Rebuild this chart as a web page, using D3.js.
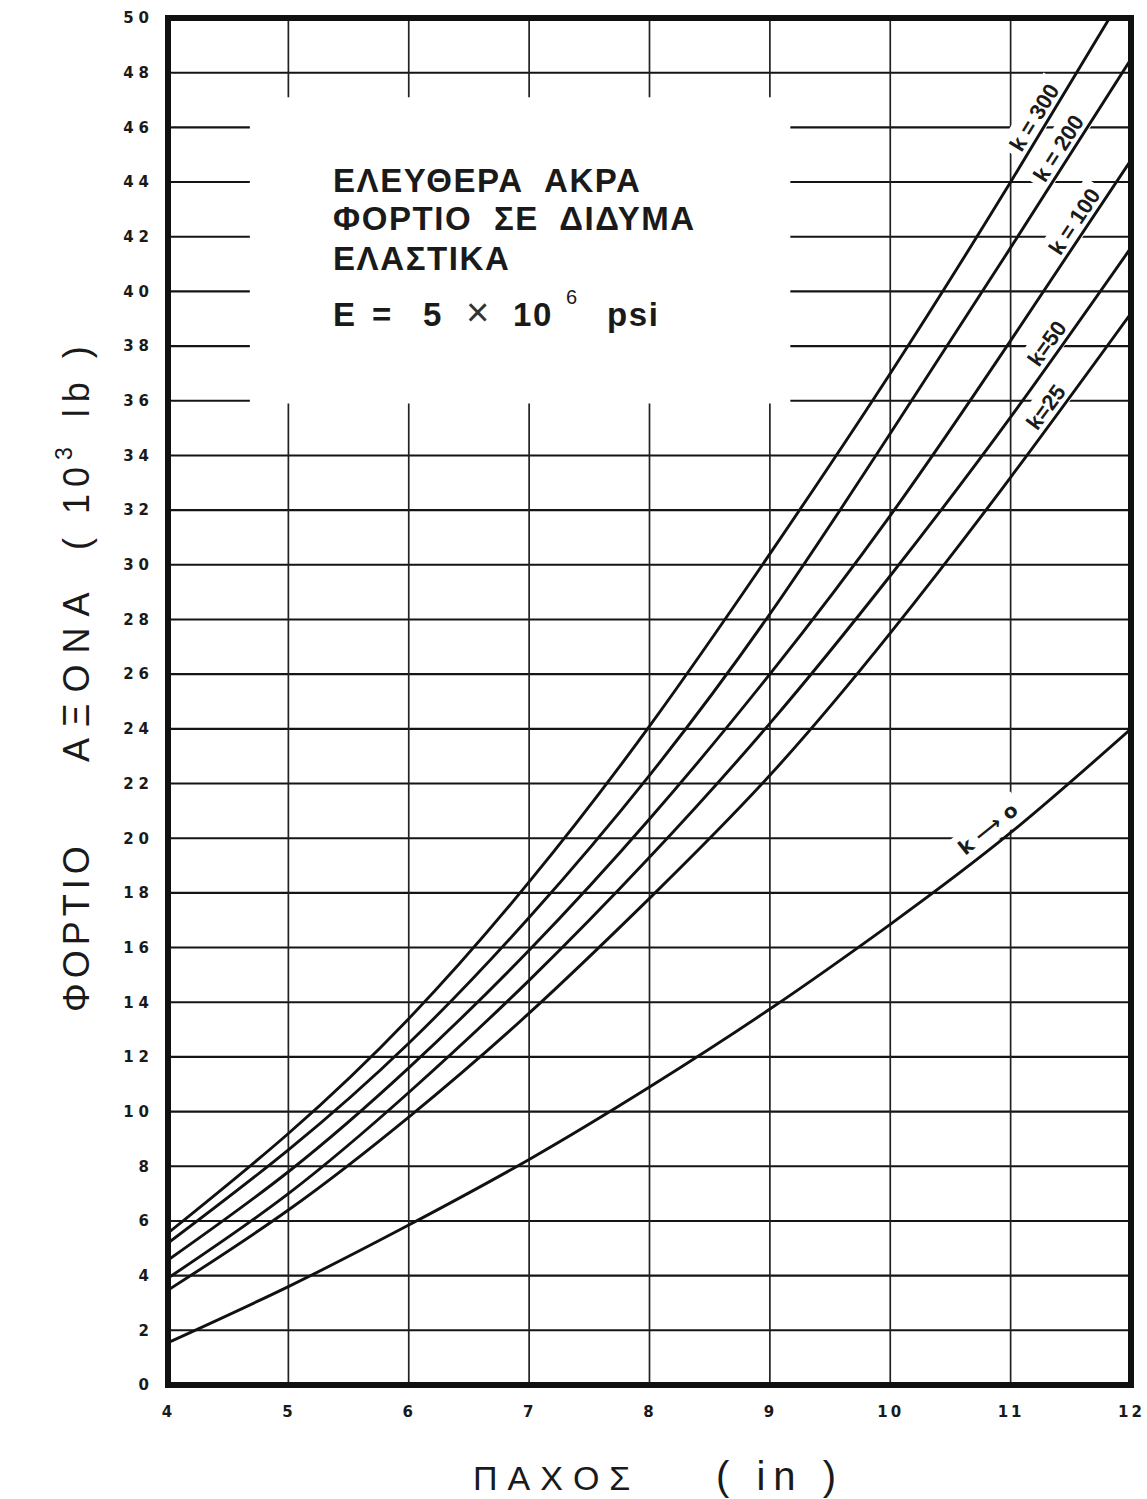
<!DOCTYPE html>
<html>
<head>
<meta charset="utf-8">
<script src="https://cdn.jsdelivr.net/npm/d3@7"></script>
<style>
  body { margin: 0; background: #fff; }
  svg { display: block; }
</style>
</head>
<body>
<svg id="chart" width="1147" height="1499"></svg>
<script>
// Slab thickness (in) and the axle load (10^3 lb) for each subgrade modulus k
const thickness = [4, 5, 6, 7, 8, 9, 10, 11, 12];
const loadK300 = [5.56, 9.2, 13.4, 18.4, 24.1, 30.4, 37.0, 44.0, 51.3];
const loadK200 = [5.19, 8.6, 12.5, 17.1, 22.3, 28.2, 34.8, 41.6, 48.5];
const loadK100 = [4.57, 7.8, 11.6, 15.9, 20.7, 26.0, 31.8, 38.2, 44.8];
const loadK50  = [3.91, 7.0, 10.7, 14.8, 19.3, 24.2, 29.6, 35.4, 41.6];
const loadK25  = [3.47, 6.4, 9.8, 13.6, 17.8, 22.3, 27.5, 33.2, 39.2];
const loadK0   = [1.55, 3.6, 5.85, 8.25, 10.9, 13.75, 16.85, 20.2, 24.0];

const curveNames = ["k = 300", "k = 200", "k = 100", "k=50", "k=25", "k \u27f6 o"];
// thickness at which each label sits beside its curve, and its offset (px) to the upper left
const labelThickness = [11.29, 11.49, 11.62, 11.39, 11.38, 10.90];
const labelOffset = [13, 13, 13, 13, 13, 17];

const xTicks = [4, 5, 6, 7, 8, 9, 10, 11, 12];
const yTicks = d3.range(0, 51, 2);

// region of the note panel (data units) kept free of grid lines
const noteThickness = [4.68, 9.17];
const noteLoad = [35.9, 47.1];

const series = [loadK300, loadK200, loadK100, loadK50, loadK25, loadK0];

const svg = d3.select("#chart");
const x = d3.scaleLinear().domain([4, 12]).range([168, 1131]);
const y = d3.scaleLinear().domain([0, 50]).range([1385, 18]);

svg.append("defs").append("clipPath").attr("id", "plotClip")
  .append("rect")
  .attr("x", x(4)).attr("y", y(50))
  .attr("width", x(12) - x(4)).attr("height", y(0) - y(50));

// grid
const grid = svg.append("g");
grid.selectAll("line.h").data(yTicks.filter(v => v > 0 && v < 50)).join("line")
  .attr("class", "h")
  .attr("x1", x(4)).attr("x2", x(12))
  .attr("y1", d => y(d)).attr("y2", d => y(d))
  .attr("stroke", "#151515").attr("stroke-width", 2.1);
grid.selectAll("line.v").data(xTicks.filter(v => v > 4 && v < 12)).join("line")
  .attr("class", "v")
  .attr("x1", d => x(d)).attr("x2", d => x(d))
  .attr("y1", y(0)).attr("y2", y(50))
  .attr("stroke", "#222").attr("stroke-width", 1.7);

// blank panel behind the note
svg.append("rect")
  .attr("x", x(noteThickness[0])).attr("y", y(noteLoad[1]))
  .attr("width", x(noteThickness[1]) - x(noteThickness[0]))
  .attr("height", y(noteLoad[0]) - y(noteLoad[1]))
  .attr("fill", "#fff");

// note text
const noteFont = "'Liberation Sans', Arial, sans-serif";
const note = svg.append("g").attr("font-family", noteFont).attr("font-weight", "bold")
  .attr("font-size", 33).attr("letter-spacing", 1.6).attr("fill", "#1a1a1a");
note.append("text").attr("x", 333).attr("y", 192).attr("xml:space", "preserve").text("ΕΛΕΥΘΕΡΑ  ΑΚΡΑ");
note.append("text").attr("x", 333).attr("y", 230).attr("xml:space", "preserve").text("ΦΟΡΤΙΟ  ΣΕ  ΔΙΔΥΜΑ");
note.append("text").attr("x", 333).attr("y", 270).text("ΕΛΑΣΤΙΚΑ");
note.append("text").attr("x", 333).attr("y", 326).text("E");
note.append("text").attr("x", 372).attr("y", 326).text("=");
note.append("text").attr("x", 423).attr("y", 326).text("5");
note.append("text").attr("x", 466).attr("y", 326).attr("font-weight", "normal").attr("font-size", 40).attr("fill", "#333").text("\u00d7");
note.append("text").attr("x", 513).attr("y", 326).text("10");
note.append("text").attr("x", 566).attr("y", 304).attr("font-weight", "normal").attr("font-size", 20).text("6");
note.append("text").attr("x", 607).attr("y", 326).text("psi");

// curve labels, turned along their curve, on a white patch
function loadAt(values, t) {
  const i = Math.max(0, Math.min(thickness.length - 2, Math.floor(t - thickness[0])));
  const f = (t - thickness[i]) / (thickness[i + 1] - thickness[i]);
  return values[i] + f * (values[i + 1] - values[i]);
}
const labels = svg.append("g");
series.forEach((values, i) => {
  const t = labelThickness[i];
  const t0 = Math.max(4, t - 0.6), t1 = Math.min(12, t + 0.6);
  const dx = x(t1) - x(t0), dy = y(loadAt(values, t0)) - y(loadAt(values, t1));
  const ang = Math.atan2(dy, dx);
  const len = Math.hypot(dx, dy);
  // point on the curve, pushed out along the normal towards the upper left
  const px = x(t) - labelOffset[i] * dy / len;
  const py = y(loadAt(values, t)) - labelOffset[i] * dx / len;
  const g = labels.append("g")
    .attr("transform", `translate(${px},${py}) rotate(${-ang * 180 / Math.PI})`);
  const patch = g.append("rect").attr("fill", "#fff");
  const txt = g.append("text")
    .attr("text-anchor", "middle").attr("dominant-baseline", "central")
    .attr("font-family", i === 5 ? "'DejaVu Sans', sans-serif" : noteFont)
    .attr("font-weight", "bold")
    .attr("font-size", i === 5 ? 20 : 22).attr("fill", "#1a1a1a")
    .text(curveNames[i]);
  const bb = txt.node().getBBox();
  patch.attr("x", bb.x - 6).attr("y", bb.y - 3).attr("width", bb.width + 12).attr("height", bb.height + 6);
});

// curves
const line = d3.line()
  .x((d, i) => x(thickness[i]))
  .y(d => y(d))
  .curve(d3.curveNatural);
svg.append("g").attr("clip-path", "url(#plotClip)")
  .selectAll("path").data(series).join("path")
  .attr("d", line)
  .attr("fill", "none").attr("stroke", "#111").attr("stroke-width", 2.9)
  .attr("stroke-linejoin", "round");

// frame
svg.append("rect")
  .attr("x", x(4)).attr("y", y(50))
  .attr("width", x(12) - x(4)).attr("height", y(0) - y(50))
  .attr("fill", "none").attr("stroke", "#111").attr("stroke-width", 6);

// tick labels
const tickFont = "'DejaVu Sans', Verdana, sans-serif";
const yAxis = svg.append("g").attr("transform", `translate(${x(4)},0)`)
  .call(d3.axisLeft(y).tickValues(yTicks).tickSize(0).tickPadding(14).tickFormat(d3.format("d")));
yAxis.select(".domain").remove();
yAxis.selectAll("text").attr("font-family", tickFont).attr("font-weight", "bold")
  .attr("font-size", 15).attr("letter-spacing", 5).attr("fill", "#1a1a1a");

const xAxis = svg.append("g").attr("transform", `translate(0,${y(0)})`)
  .call(d3.axisBottom(x).tickValues(xTicks).tickSize(0).tickPadding(21).tickFormat(d3.format("d")));
xAxis.select(".domain").remove();
xAxis.selectAll("text").attr("font-family", tickFont).attr("font-weight", "bold")
  .attr("font-size", 15).attr("letter-spacing", 3).attr("fill", "#1a1a1a");

// axis titles
const titleFont = "'Liberation Sans', Arial, sans-serif";
const yTitle = svg.append("g").attr("font-family", titleFont).attr("font-size", 36)
  .attr("fill", "#1a1a1a");
yTitle.append("text").attr("transform", "translate(89,1012) rotate(-90)")
  .attr("letter-spacing", 5).text("ΦΟΡΤΙΟ");
yTitle.append("text").attr("transform", "translate(89,762) rotate(-90)")
  .attr("letter-spacing", 11).text("ΑΞΟΝΑ");
const unitY = yTitle.append("text").attr("transform", "translate(89,550) rotate(-90)")
  .attr("letter-spacing", 7).attr("xml:space", "preserve");
unitY.append("tspan").text("( 10");
unitY.append("tspan").attr("font-size", 23).attr("dy", -17).text("3");
unitY.append("tspan").attr("dy", 17).attr("dx", 6).text(" lb )");

const xTitle = svg.append("g").attr("font-family", titleFont).attr("font-size", 34)
  .attr("letter-spacing", 10).attr("fill", "#1a1a1a");
xTitle.append("text").attr("x", 473).attr("y", 1490).text("ΠΑΧΟΣ");
xTitle.append("text").attr("x", 716).attr("y", 1490).attr("font-size", 40).attr("letter-spacing", 8)
  .attr("xml:space", "preserve").text("( in )");
</script>
</body>
</html>
